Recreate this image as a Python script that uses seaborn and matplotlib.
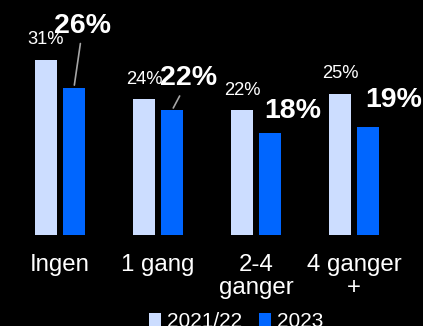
#!/usr/bin/env python3
import matplotlib
matplotlib.use("Agg")
import matplotlib.pyplot as plt
import pandas as pd
import seaborn as sns

CATEGORIES = ["Ingen", "1 gang", "2-4\nganger", "4 ganger\n+"]
YEARS = ["2021/22", "2023"]
VALUES_2122 = [31, 24, 22, 25]
VALUES_2023 = [26, 22, 18, 19]

LIGHT = "#CCDDFF"
BLUE = "#0066FF"
BG = "#000000"
WHITE = "#FFFFFF"
LINE = "#A6A6A6"

# offsets (px) of the bold 2023 labels from the bar top, and whether a leader line is drawn
BIG_OFFSETS = [(9, 62), (17, 32), (23, 22), (26, 27)]
BIG_LINE = [True, True, False, False]

df = pd.DataFrame(
    {
        "Kategori": CATEGORIES * 2,
        "Aar": [YEARS[0]] * 4 + [YEARS[1]] * 4,
        "Andel": VALUES_2122 + VALUES_2023,
    }
)

sns.set_style("white")
plt.rcParams["font.family"] = ["Liberation Sans", "DejaVu Sans"]

fig = plt.figure(figsize=(4.23, 3.26), dpi=100, facecolor=BG)
ax = fig.add_axes([0, 0.28, 1, 0.693])
ax.set_facecolor(BG)

sns.barplot(
    data=df, x="Kategori", y="Andel", hue="Aar",
    palette=[LIGHT, BLUE], width=0.57, gap=0.21,
    saturation=1, linewidth=0, ax=ax, legend=True,
)

ax.set_xlim(-0.612, 3.704)
ax.set_ylim(0, 40)
for s in ax.spines.values():
    s.set_visible(False)
ax.set_yticks([])
ax.set_xlabel("")
ax.set_ylabel("")
ax.tick_params(axis="x", length=0, pad=14, colors=WHITE, labelsize=17.3)
for t in ax.get_xticklabels():
    t.set_linespacing(1.05)

light_bars, blue_bars = ax.containers[0], ax.containers[1]

for bar, v in zip(light_bars, VALUES_2122):
    ax.annotate(
        f"{v}%", (bar.get_x() + bar.get_width() / 2, bar.get_height()),
        xytext=(0, 20), textcoords="offset pixels",
        ha="center", va="center", color=WHITE, fontsize=13.2,
    )

for bar, v, off, line in zip(blue_bars, VALUES_2023, BIG_OFFSETS, BIG_LINE):
    arrow = dict(arrowstyle="-", color=LINE, lw=1.2, shrinkA=1, shrinkB=2) if line else None
    ax.annotate(
        f"{v}%", (bar.get_x() + bar.get_width() / 2, bar.get_height()),
        xytext=off, textcoords="offset pixels",
        ha="center", va="center", color=WHITE, fontsize=20.5, fontweight="bold",
        arrowprops=arrow,
    )

handles, labels = ax.get_legend_handles_labels()
ax.get_legend().remove()
leg = fig.legend(
    handles, labels, loc="center", bbox_to_anchor=(0.558, 0.015),
    ncol=2, frameon=False, fontsize=15,
    handlelength=0.57, handleheight=0.57, handletextpad=0.3, columnspacing=0.8,
)
for t in leg.get_texts():
    t.set_color(WHITE)

fig.savefig("out.png", dpi=100, facecolor=BG)
